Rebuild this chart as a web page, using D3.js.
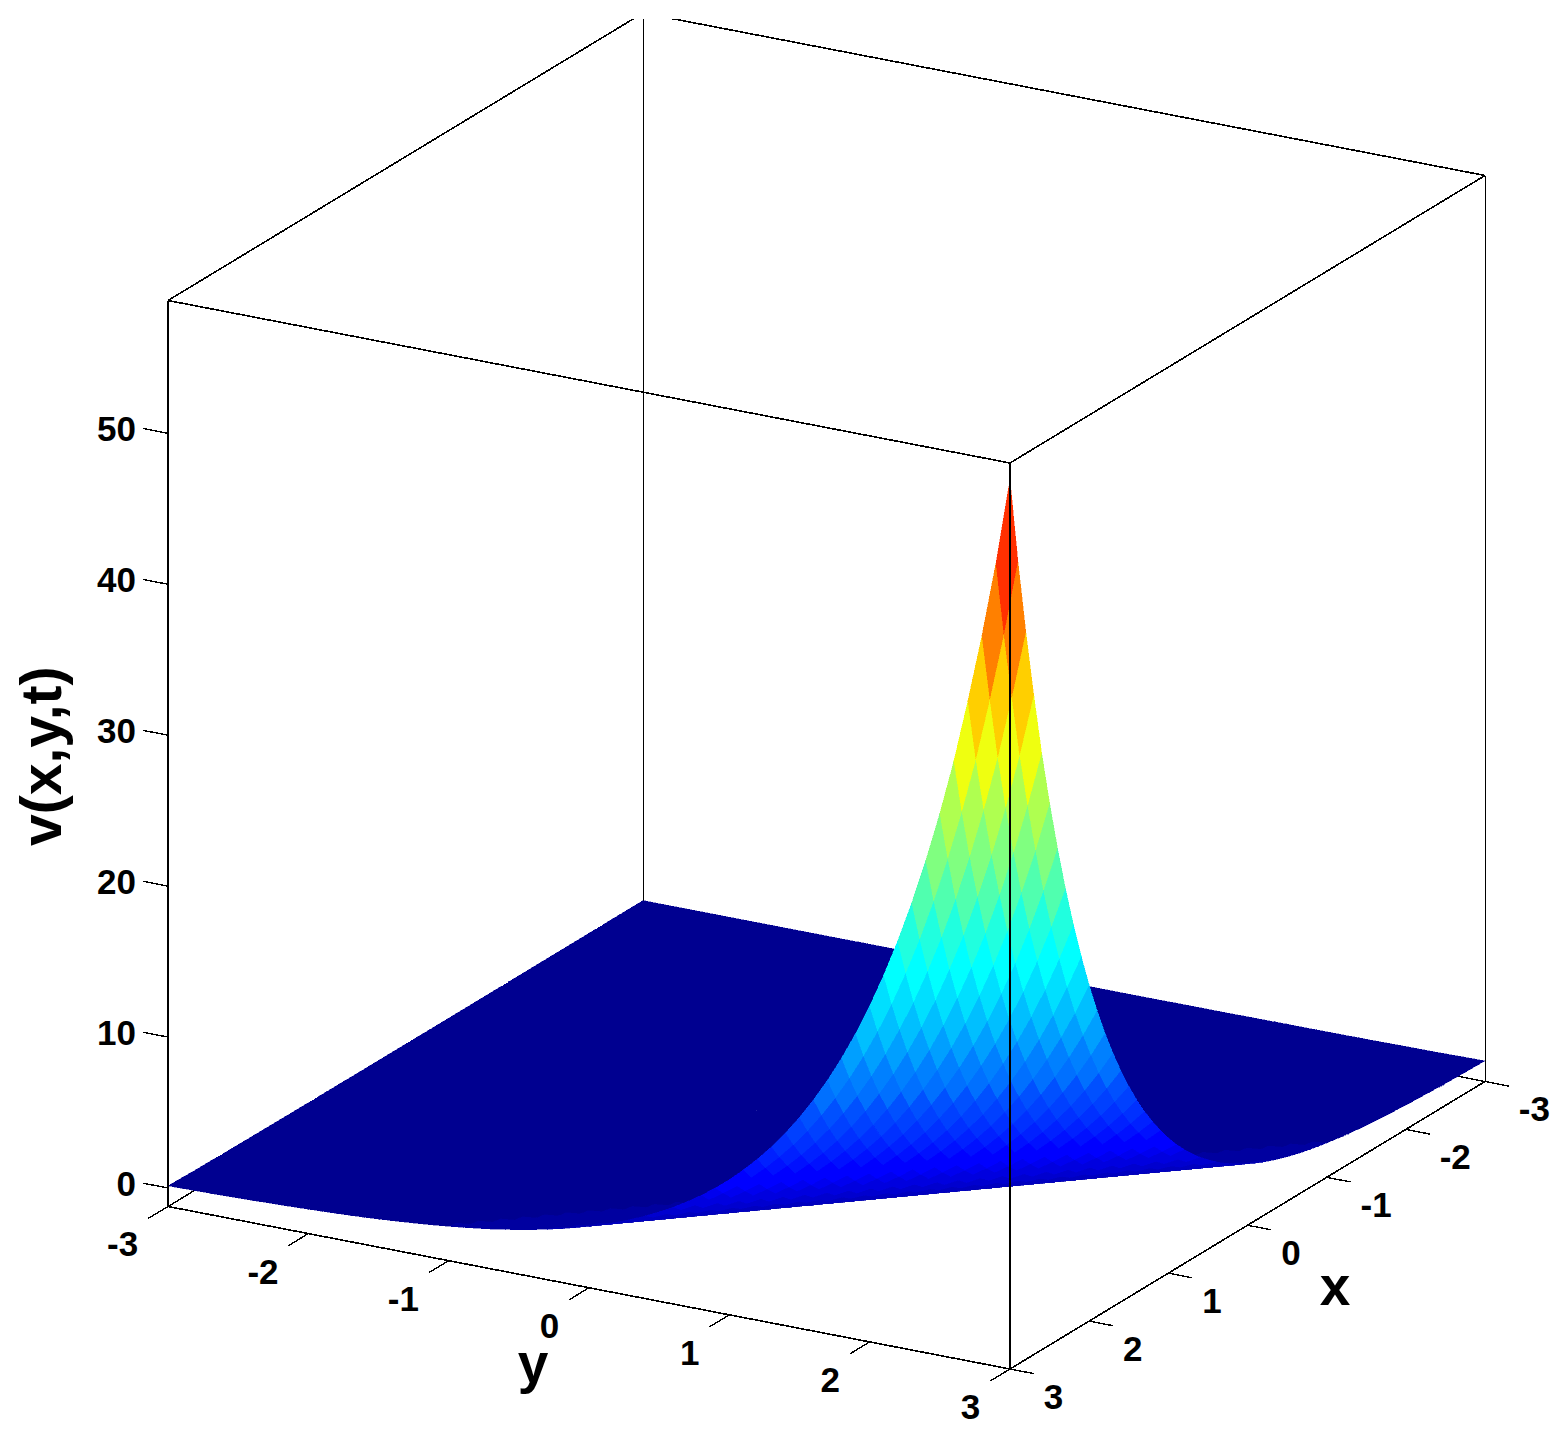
<!DOCTYPE html>
<meta charset="utf-8">
<style>
body { margin: 0; background: #fff; }
text { font-family: "Liberation Sans", Arial, sans-serif; font-weight: bold; fill: #000; }
.ticklabel { font-size: 35px; }
.axislabel { font-size: 55px; }
</style>
<body>
<script src="https://d3js.org/d3.v7.min.js"></script>
<script>

var xTicks = [-3, -2, -1, 0, 1, 2, 3];
var yTicks = [-3, -2, -1, 0, 1, 2, 3];
var zTicks = [0, 10, 20, 30, 40, 50];

// mesh lines, -3 to 3 in steps of 0.1
var xs = d3.range(61).map(function(i) { return -3 + i / 10; });
var ys = d3.range(61).map(function(i) { return -3 + i / 10; });

// height, one value per diagonal of the mesh,
// starting at the front corner (x=3, y=3) and walking back to (x=-3, y=-3)
var zByDiagonal = [
  57.7, 52.0, 47.0, 42.5, 38.34, 34.69, 31.39, 28.41, 25.7, 23.26,
  21.04, 19.04, 17.23, 15.59, 14.11, 12.76, 11.55, 10.45, 9.46, 8.56,
  7.74, 7.0, 6.34, 5.74, 5.19, 4.7, 4.25, 3.85, 3.48, 3.15,
  2.85, 2.58, 2.33, 2.11, 1.91, 1.73, 1.56, 1.41, 1.28, 1.16,
  1.05, 0.95, 0.86, 0.78, 0.7, 0.63, 0.57, 0.52, 0.47, 0.43,
  0.39, 0.35, 0.32, 0.29, 0.26, 0.23, 0.21, 0.19, 0.17, 0.16,
  0.14, 0.13, 0.12, 0.1, 0.09, 0.09, 0.08, 0.07, 0.06, 0.06,
  0.05, 0.05, 0.04, 0.04, 0.04, 0.03, 0.03, 0.03, 0.02, 0.02,
  0.02, 0.02, 0.02, 0.01, 0.01, 0.01, 0.01, 0.01, 0.01, 0.01,
  0.01, 0.01, 0, 0, 0, 0, 0, 0, 0, 0,
  0, 0, 0, 0, 0, 0, 0, 0, 0, 0,
  0, 0, 0, 0, 0, 0, 0, 0, 0, 0, 0
];

var w = 1561, h = 1437;

// floor corners of the box on screen
var front = [1010, 1369], left = [168, 1206.5], right = [1485, 1081.5];

var xToU = d3.scaleLinear().domain([-3, 3]).range([right[0] - front[0], 0]);
var xToV = d3.scaleLinear().domain([-3, 3]).range([right[1] - front[1], 0]);
var yToU = d3.scaleLinear().domain([-3, 3]).range([left[0] - front[0], 0]);
var yToV = d3.scaleLinear().domain([-3, 3]).range([left[1] - front[1], 0]);
var zToV = d3.scaleLinear().domain([-1.225, 58.8]).range([0, -906]);

function project(x, y, z) {
  return [front[0] + xToU(x) + yToU(y), front[1] + xToV(x) + yToV(y) + zToV(z)];
}

// same as matlab jet(64)
var jet = d3.scaleLinear()
  .domain([0, 0.125, 0.375, 0.625, 0.875, 1])
  .range(["#000080", "#0000ff", "#00ffff", "#ffff00", "#ff0000", "#800000"]);
var colour = d3.scaleQuantize()
  .domain([0, 57.7])
  .range(d3.range(1, 65).map(function(i) { return jet(i / 64); }));

function zAt(i, j) {
  return zByDiagonal[(60 - i) + (60 - j)];
}

var svg = d3.select("body").append("svg")
  .attr("width", w)
  .attr("height", h);

svg.append("clipPath").attr("id", "top-crop")
  .append("rect").attr("x", 0).attr("y", 19).attr("width", w).attr("height", h);

function edge(a, b, width, clip) {
  var p = project(a[0], a[1], a[2]), q = project(b[0], b[1], b[2]);
  var l = svg.append("line")
    .attr("x1", p[0]).attr("y1", p[1])
    .attr("x2", q[0]).attr("y2", q[1])
    .attr("stroke", "#000")
    .attr("stroke-width", width)
    .attr("shape-rendering", "crispEdges");
  if (clip) l.attr("clip-path", "url(#top-crop)");
  return l;
}

var zLo = zToV.domain()[0], zHi = zToV.domain()[1];

// back of the box, goes behind the surface
edge([-3, -3, zLo], [-3, -3, zHi], 1, true);
edge([-3, -3, zLo], [3, -3, zLo], 1.4);
edge([-3, -3, zLo], [-3, 3, zLo], 1.4);
edge([-3, -3, zHi], [3, -3, zHi], 1.6, true);
edge([-3, -3, zHi], [-3, 3, zHi], 1.6, true);

// surface cells, painted far to near
var cells = [];
d3.range(60).forEach(function(i) {
  d3.range(60).forEach(function(j) {
    var corners = [[i, j], [i + 1, j], [i + 1, j + 1], [i, j + 1]];
    var depth = d3.sum(corners, function(c) {
      return 2118 * xs[c[0]] + 1195 * ys[c[1]] + 8958 * zAt(c[0], c[1]);
    });
    cells.push({
      depth: depth,
      fill: colour(zAt(i, j)),
      pts: corners.map(function(c) { return project(xs[c[0]], ys[c[1]], zAt(c[0], c[1])); })
    });
  });
});
cells.sort(function(a, b) { return d3.ascending(a.depth, b.depth); });

var outline = d3.line();
svg.append("g").attr("shape-rendering", "crispEdges")
  .selectAll("path")
  .data(cells)
  .enter()
  .append("path")
  .attr("d", function(d) { return outline(d.pts) + "Z"; })
  .attr("fill", function(d) { return d.fill; })
  .attr("stroke", function(d) { return d.fill; })
  .attr("stroke-width", 0.4);

// rest of the box
edge([3, -3, zLo], [3, -3, zHi], 2);
edge([-3, 3, zLo], [-3, 3, zHi], 1);
edge([3, 3, zLo], [3, 3, zHi], 2);
edge([3, -3, zLo], [3, 3, zLo], 1.6);
edge([-3, 3, zLo], [3, 3, zLo], 1.6);
edge([3, -3, zHi], [3, 3, zHi], 1.6);
edge([-3, 3, zHi], [3, 3, zHi], 1.6);

// z axis
zTicks.forEach(function(t) {
  edge([3, -3, t], [3, -3.18, t], 1.4);
  var p = project(3, -3, t);
  svg.append("text").attr("class", "ticklabel")
    .attr("x", 136).attr("y", p[1] + 8)
    .attr("text-anchor", "end")
    .text(t);
});

// y axis, along the x=3 floor edge
yTicks.forEach(function(t) {
  edge([3, t, zLo], [3.25, t, zLo], 1.4);
  var p = project(3.25, t, zLo);
  svg.append("text").attr("class", "ticklabel")
    .attr("x", p[0] - 10).attr("y", p[1] + 38)
    .attr("text-anchor", "end")
    .text(t);
});

// x axis, along the y=3 floor edge
xTicks.forEach(function(t) {
  edge([t, 3, zLo], [t, 3.17, zLo], 1.4);
  var p = project(t, 3.17, zLo);
  svg.append("text").attr("class", "ticklabel")
    .attr("x", p[0] + 10).attr("y", p[1] + 35)
    .text(t);
});

svg.append("text").attr("class", "axislabel")
  .attr("x", 1335).attr("y", 1305)
  .attr("text-anchor", "middle")
  .text("x");
svg.append("text").attr("class", "axislabel")
  .attr("x", 533).attr("y", 1382)
  .attr("text-anchor", "middle")
  .text("y");
svg.append("text").attr("class", "axislabel")
  .attr("transform", "translate(61,846) rotate(-90)")
  .style("font-size", "57px")
  .text("v(x,y,t)");

</script>
</body>
